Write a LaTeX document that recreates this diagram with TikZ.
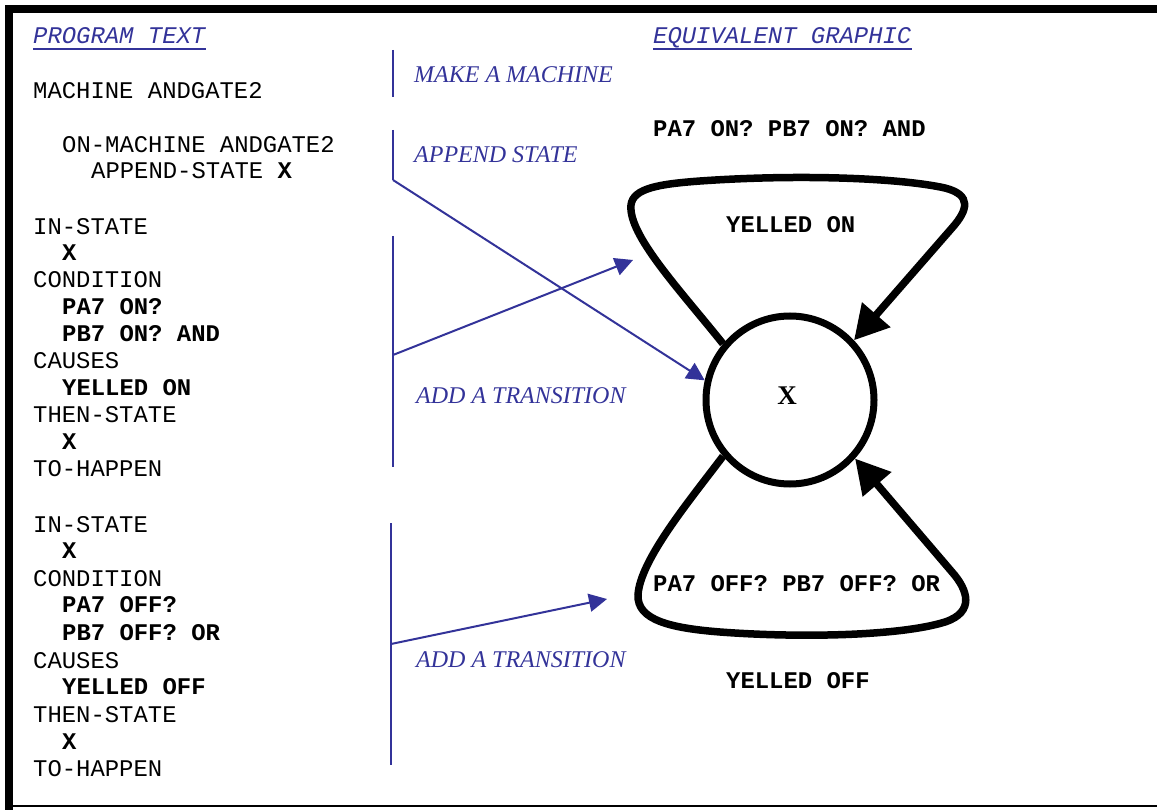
\documentclass[tikz,border=0pt]{standalone}
\usepackage{fontspec}
\setmainfont{Liberation Serif}[BoldFont={Liberation Serif Bold}]
\setmonofont{Liberation Mono}
\usetikzlibrary{arrows.meta}
\definecolor{pblue}{RGB}{51,51,153}
\tikzset{
  prog/.style={anchor=base west, inner sep=0pt, font=\ttfamily\fontsize{23.9}{27}\selectfont},
  progb/.style={prog, font=\ttfamily\bfseries\fontsize{23.9}{27}\selectfont},
  hdr/.style={prog, font=\ttfamily\itshape\fontsize{23.9}{27}\selectfont, text=pblue},
  note/.style={anchor=base west, inner sep=0pt, font=\itshape\fontsize{24}{28}\selectfont, text=pblue},
  statel/.style={inner sep=0pt, font=\bfseries\fontsize{27}{30}\selectfont},
  bluel/.style={draw=pblue, line width=2pt},
  bluea/.style={bluel, -{Triangle[length=18pt,width=18pt]}},
  loopl/.style={line width=7.5pt, -{Triangle[length=34pt,width=36pt]}},
}
\begin{document}
\begin{tikzpicture}[x=1pt,y=-1pt]
\useasboundingbox (0,0) rectangle (1157,810);

%Frame
\fill (5,5) rectangle (1157,13);
\fill (5,5) rectangle (13,810);
\fill (13,805) rectangle (1157,807);

% Headers
\node[hdr] (hprog) at (33,43.5) {PROGRAM TEXT};
\draw[pblue, line width=1.4pt] ([yshift=-5.5pt]hprog.base west) -- ([yshift=-5.5pt]hprog.base east);
\node[hdr] (hgraph) at (653,43.5) {EQUIVALENT GRAPHIC};
\draw[pblue, line width=1.4pt] ([yshift=-5.5pt]hgraph.base west) -- ([yshift=-5.5pt]hgraph.base east);

% Program text
\node[prog] (p1) at (33,98.5) {MACHINE ANDGATE2};
\node[prog] (p2) at (62,152.5) {ON-MACHINE ANDGATE2};
\node[prog] (p3) at (91,178.5) {APPEND-STATE \textbf{X}};
\node[prog] (p4) at (33,234.5) {IN-STATE};
\node[progb] (p5) at (62,260.5) {X};
\node[prog] (p6) at (33,287.5) {CONDITION};
\node[progb] (p7) at (62,314.5) {PA7 ON?};
\node[progb] (p8) at (62,341.5) {PB7 ON? AND};
\node[prog] (p9) at (33,368.5) {CAUSES};
\node[progb] (p10) at (62,395.5) {YELLED ON};
\node[prog] (p11) at (33,422.5) {THEN-STATE};
\node[progb] (p12) at (62,449.5) {X};
\node[prog] (p13) at (33,476.5) {TO-HAPPEN};
\node[prog] (p14) at (33,532.5) {IN-STATE};
\node[progb] (p15) at (62,558.5) {X};
\node[prog] (p16) at (33,586.5) {CONDITION};
\node[progb] (p17) at (62,612.5) {PA7 OFF?};
\node[progb] (p18) at (62,640.5) {PB7 OFF? OR};
\node[prog] (p19) at (33,668.5) {CAUSES};
\node[progb] (p20) at (62,694.5) {YELLED OFF};
\node[prog] (p21) at (33,722.5) {THEN-STATE};
\node[progb] (p22) at (62,749.5) {X};
\node[prog] (p23) at (33,776.5) {TO-HAPPEN};

% Notes
\node[note] (n1) at (414,83) {MAKE A MACHINE};
\node[note] (n2) at (414,163) {APPEND STATE};
\node[note] (n3) at (416,403) {ADD A TRANSITION};
\node[note] (n4) at (416,667) {ADD A TRANSITION};

% State
\node[draw, circle, line width=7pt, minimum size=168pt, inner sep=0pt] (stX) at (790,400) {};
\node[statel] (xlab) at (787,396) {X};

% Transition labels
\node[progb] (g1) at (653,136.5) {PA7 ON? PB7 ON? AND};
\node[progb] (g2) at (726,232.5) {YELLED ON};
\node[progb] (g3) at (653,591.5) {PA7 OFF? PB7 OFF? OR};
\node[progb] (g4) at (726,688.5) {YELLED OFF};

% Loops
\draw[loopl] (stX.140) .. controls (680,290) and (628,235) .. (631,205) .. controls (633,188) and (660,184) .. (700,181) .. controls (800,174) and (900,178) .. (945,188) .. controls (972,195) and (968,210) .. (952,228) -- (stX.43);
\draw[loopl] (stX.220) .. controls (690,500) and (640,560) .. (638,595) .. controls (637,620) and (670,628) .. (720,632) .. controls (800,638) and (900,636) .. (945,622) .. controls (975,612) and (968,590) .. (952,572) -- (stX.318);

% Blue brackets and arrows
\coordinate (v1a) at (393,50);
\coordinate (v1b) at (393,97);
\draw[bluel] (v1a) -- (v1b);
\coordinate (v2a) at (393,130);
\coordinate (v2b) at (393,180);
\draw[bluel] (v2a) -- (v2b);
\draw[bluea] (v2b) -- (stX.167);
\coordinate (v3a) at (393,236);
\coordinate (v3b) at (393,467);
\coordinate (v3m) at (393,355);
\coordinate (t3) at (633,260);
\draw[bluel] (v3a) -- (v3b);
\draw[bluea] (v3m) -- (t3);
\coordinate (v4a) at (391,523);
\coordinate (v4b) at (391,765);
\coordinate (v4m) at (391,644);
\coordinate (t4) at (607,599);
\draw[bluel] (v4a) -- (v4b);
\draw[bluea] (v4m) -- (t4);

\end{tikzpicture}
\end{document}
